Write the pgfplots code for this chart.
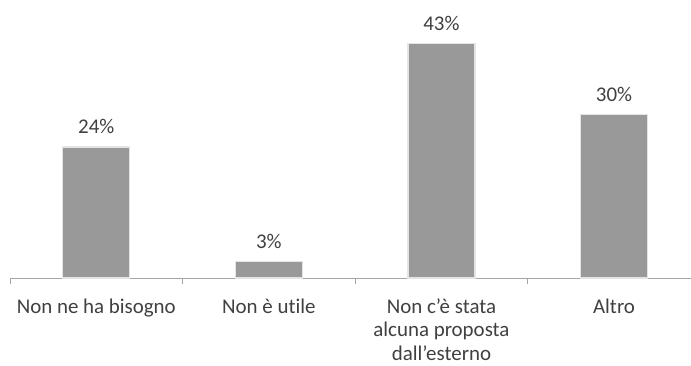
\documentclass[border=0pt]{standalone}
\usepackage{pgfplots}
\pgfplotsset{compat=1.18}
\usepackage{fontspec}
\setmainfont[Ligatures=NoCommon]{Carlito}
\definecolor{barfill}{HTML}{999999}
\definecolor{baredge}{HTML}{E4E4E4}
\definecolor{txt}{HTML}{404040}
\definecolor{axisgray}{HTML}{A6A6A6}
\begin{document}
\begin{tikzpicture}[x=1bp,y=1bp]
\begin{axis}[
  /pgf/number format/assume math mode=true,
  scale only axis,
  width=681bp, height=278bp,
  xmin=-0.5, xmax=3.446,
  ymin=0, ymax=50.9,
  axis y line=none,
  axis x line*=bottom,
  x axis line style={draw=axisgray, line width=0.9bp, -},
  xtick={0,1,2,3},
  xticklabels={Non ne ha bisogno, Non è utile, {Non c’è stata\\alcuna proposta\\dall’esterno}, Altro},
  major tick length=0pt,
  extra x ticks={-0.5,0.5,1.5,2.5},
  extra x tick labels={},
  extra x tick style={major tick length=6bp, tick style={draw=axisgray, line width=0.9bp}},
  xtick pos=bottom,
  tick align=outside,
  xticklabel style={font=\fontsize{21}{23.5}\selectfont, text=txt, align=center, yshift=-17bp},
  ybar, bar width=67bp,
  nodes near coords={\pgfmathprintnumber{\pgfplotspointmeta}\%},
  every node near coord/.append style={font=\fontsize{21}{24}\selectfont, text=txt, yshift=9bp},
  clip=false,
]
\addplot[fill=barfill, draw=baredge, line width=1.2bp] coordinates {(0,24) (1,3) (2,43) (3,30)};
\end{axis}
\pgfresetboundingbox
\path[use as bounding box] (-10,-87) rectangle (681,278);
\end{tikzpicture}
\end{document}
